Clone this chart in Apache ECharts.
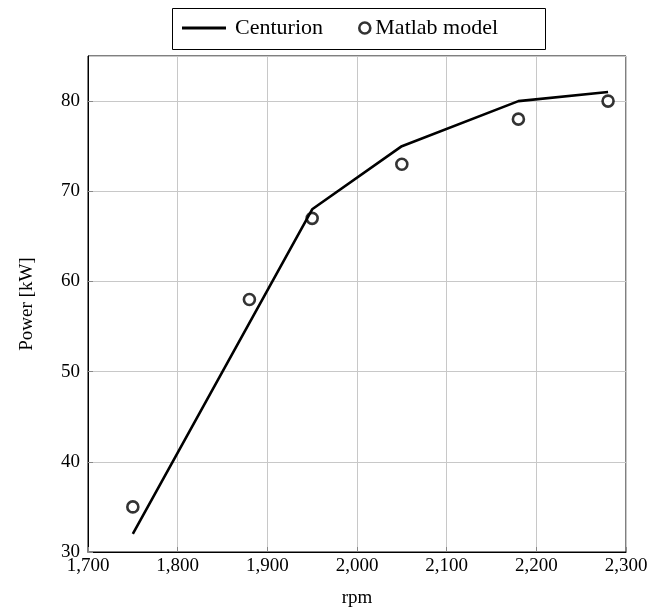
<!DOCTYPE html>
<html><head><meta charset="utf-8">
<script src="https://cdn.jsdelivr.net/npm/echarts@6/dist/echarts.min.js"></script>
<style>html,body{margin:0;padding:0;background:#fff;overflow:hidden}#c{width:665px;height:613px}</style>
</head><body><div id="c"></div>
<script>
const centurionRpm = [1750, 1950, 2050, 2180, 2280];
const centurionPower = [32, 68, 75, 80, 81];
const matlabRpm = [1750, 1880, 1950, 2050, 2180, 2280];
const matlabPower = [35, 58, 67, 73, 78, 80];
const seriesNames = ['Centurion', 'Matlab model'];
const xLabel = 'rpm';
const yLabel = 'Power [kW]';

const font = '"Liberation Serif", "DejaVu Serif", serif';
const chart = echarts.init(document.getElementById('c'));
chart.setOption({
  animation: false,
  textStyle: {fontFamily: font},
  grid: {left: 88, right: 39, top: 56, bottom: 59, show: true, borderColor: '#000', borderWidth: 1},
  graphic: [{type: 'rect', left: 170, top: 6, shape: {width: 373, height: 41},
    style: {fill: 'none', stroke: '#000', lineWidth: 1}, z: 10}],
  legend: [
    {left: 182, top: 17, padding: 0, itemWidth: 44, itemHeight: 3,
     textStyle: {fontFamily: font, fontSize: 22, color: '#000', padding: [0, 0, 0, 4]},
     data: [{name: seriesNames[0], icon: 'rect', itemStyle: {color: '#000'}}]},
    {left: 358, top: 17, padding: 0, itemWidth: 11, itemHeight: 11,
     textStyle: {fontFamily: font, fontSize: 22, color: '#000', padding: [0, 0, 0, 0]},
     data: [{name: seriesNames[1], icon: 'circle', itemStyle: {color: '#fff', borderColor: '#000', borderWidth: 2.6}}]}
  ],
  xAxis: {
    type: 'value', min: 1700, max: 2300, interval: 100,
    name: xLabel, nameLocation: 'middle', nameGap: 37,
    nameTextStyle: {fontFamily: font, fontSize: 19, color: '#000'},
    axisLine: {lineStyle: {color: '#000'}},
    axisTick: {inside: true, length: 5, lineStyle: {color: '#888'}},
    axisLabel: {fontFamily: font, fontSize: 19, color: '#000', margin: 5,
      formatter: v => v.toLocaleString('en-US')},
    splitLine: {show: true, lineStyle: {color: '#c8c8c8'}}
  },
  yAxis: {
    type: 'value', min: 30, max: 85, interval: 10,
    name: yLabel, nameLocation: 'middle', nameGap: 51,
    nameTextStyle: {fontFamily: font, fontSize: 19, color: '#000'},
    axisLine: {lineStyle: {color: '#000'}},
    axisTick: {inside: true, length: 5, lineStyle: {color: '#888'}},
    axisLabel: {fontFamily: font, fontSize: 19, color: '#000', margin: 8,
      showMaxLabel: false},
    splitLine: {show: true, lineStyle: {color: '#c8c8c8'}}
  },
  series: [
    {name: seriesNames[0], type: 'line', showSymbol: false, symbol: 'none',
     lineStyle: {color: '#000', width: 2.6}, itemStyle: {color: '#000'},
     data: centurionRpm.map((x, i) => [x, centurionPower[i]])},
    {name: seriesNames[1], type: 'scatter', symbol: 'circle', symbolSize: 11,
     itemStyle: {color: '#fff', borderColor: '#000', borderWidth: 2.6},
     data: matlabRpm.map((x, i) => [x, matlabPower[i]])}
  ]
});
</script></body></html>
